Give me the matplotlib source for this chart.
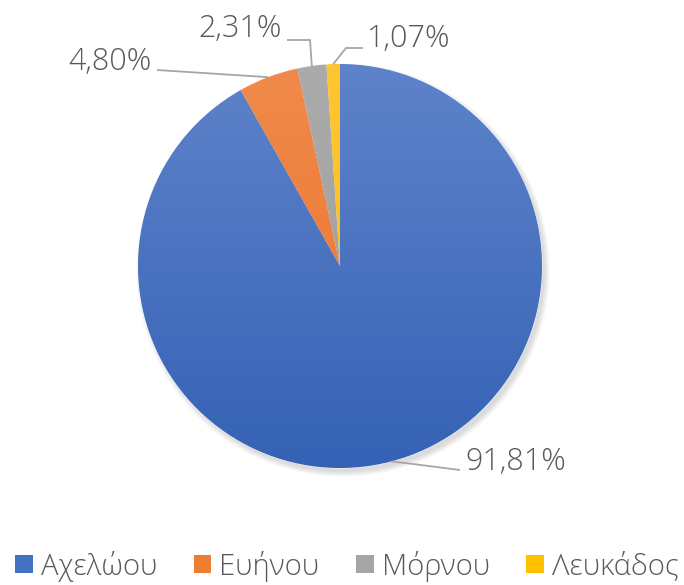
import matplotlib
matplotlib.use("Agg")
import matplotlib.pyplot as plt
import numpy as np
from matplotlib.colors import LinearSegmentedColormap
from matplotlib.patches import Patch

categories = ["Αχελώου", "Ευήνου", "Μόρνου", "Λευκάδος"]
values = [91.81, 4.80, 2.31, 1.07]
labels = ["91,81%", "4,80%", "2,31%", "1,07%"]
colors_top = ["#5E83CA", "#F08A4B", "#ABABAB", "#FFC533"]
colors_bot = ["#3562B5", "#EC7229", "#9C9C9C", "#FDBB10"]
legend_colors = ["#4472C4", "#ED7D31", "#A5A5A5", "#FFC000"]

plt.rcParams['font.family'] = ['Open Sans', 'DejaVu Sans']
W, H = 684, 585
fig = plt.figure(figsize=(W/100, H/100), dpi=100)
ax = fig.add_axes([0, 0, 1, 1])
ax.set_xlim(0, W)
ax.set_ylim(0, H)
ax.set_aspect('equal')
ax.axis('off')

cx, cy, r = 340, H - 266, 202

# soft shadow
for i in range(12):
    sh = plt.Circle((cx + 3, cy - 4), r + 5 - i * 0.5, color='black', alpha=0.012, lw=0, zorder=0)
    ax.add_patch(sh)

wedges, _ = ax.pie(values, startangle=90, counterclock=False, center=(cx, cy),
                   radius=r, colors=legend_colors, frame=True,
                   wedgeprops=dict(linewidth=0.6, edgecolor='white'))
ax.set_xlim(0, W)
ax.set_ylim(0, H)
ax.axis('off')

grad = np.linspace(0, 1, 256).reshape(-1, 1)
for w, ct, cb in zip(wedges, colors_top, colors_bot):
    cmap = LinearSegmentedColormap.from_list("g", [cb, ct])
    im = ax.imshow(grad, extent=(cx - r, cx + r, cy - r, cy + r), origin='lower',
                   cmap=cmap, aspect='auto', zorder=1.5, interpolation='bilinear')
    im.set_clip_path(w)
    w.set_zorder(1)

# leader lines and labels
line_c = "#A6A6A6"
text_c = "#595959"
fs = 22
layout = [
    ([(405, 463), (460, 470)], (465, 462), 'left'),
    ([(157, 70)], (152, 62), 'right'),
    ([(310, 40), (287, 40)], (282, 29), 'right'),
    ([(346, 48), (363, 48)], (367, 39), 'left'),
]
theta = 90.0
for v, lab, (pts, tp, ha) in zip(values, labels, layout):
    span = v / sum(values) * 360
    mid = np.deg2rad(theta - span / 2)
    theta -= span
    ax_x = cx + r * np.cos(mid)
    ax_y = cy + r * np.sin(mid)
    xs = [ax_x] + [p[0] for p in pts]
    ys = [ax_y] + [H - p[1] for p in pts]
    ax.plot(xs, ys, color=line_c, lw=1.3, zorder=3, solid_capstyle='butt')
    ax.text(tp[0], H - tp[1], lab, ha=ha, va='center', fontsize=fs, color=text_c,
            zorder=4, fontweight='light')

handles = [Patch(facecolor=c, edgecolor='none') for c in legend_colors]
leg = ax.legend(handles, categories, loc='center', bbox_to_anchor=(347 / W, 1 - 566 / H),
                ncol=4, frameon=False, prop=dict(size=21, weight='light'),
                handlelength=0.6, handleheight=0.6,
                handletextpad=0.28, columnspacing=1.25, labelcolor=text_c)

fig.savefig("out.png", dpi=100)
